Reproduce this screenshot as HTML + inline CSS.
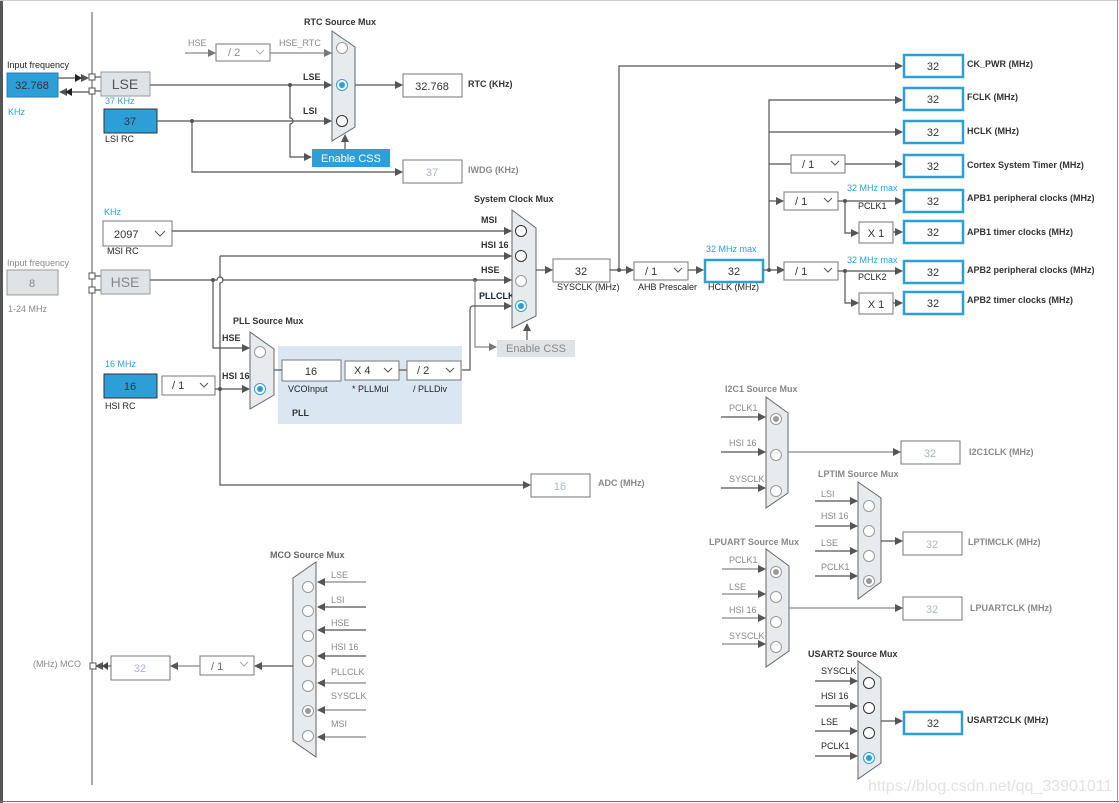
<!DOCTYPE html>
<html><head><meta charset="utf-8"><style>
html,body{margin:0;padding:0;background:#fff}
svg{display:block;font-family:"Liberation Sans",sans-serif}
.l{stroke:#555;stroke-width:1.2;fill:none}
.lg{stroke:#888;stroke-width:1.2;fill:none}
.b{fill:#fff;stroke:#777;stroke-width:1}
.bb{fill:#fff;stroke:#2d9fd8;stroke-width:2.5}
.mux{fill:#e8ebee;stroke:#666;stroke-width:1}
.t{font-size:9px;fill:#333;font-weight:bold}
.tg{font-size:9px;fill:#888}
.tb{font-size:9px;fill:#2d9fd8}
.tn{font-size:11px;fill:#333;text-anchor:middle}
.tgn{font-size:11px;fill:#aab8c6;text-anchor:middle}
.tk{font-size:9px;fill:#222}
</style></head><body>
<svg width="1119" height="803" viewBox="0 0 1119 803">
<defs>
<marker id="a" markerWidth="8" markerHeight="8" refX="7" refY="4" orient="auto" markerUnits="userSpaceOnUse"><path d="M0,0 L8,4 L0,8z" fill="#555"/></marker>
<marker id="ag" markerWidth="8" markerHeight="8" refX="7" refY="4" orient="auto" markerUnits="userSpaceOnUse"><path d="M0,0 L8,4 L0,8z" fill="#777"/></marker>
</defs>
<rect x="0" y="0" width="1119" height="803" fill="#fff"/>
<rect x="0" y="0" width="3" height="803" fill="#555"/>
<line x1="0" y1="0.5" x2="1119" y2="0.5" stroke="#ccc"/>
<line x1="0" y1="801.5" x2="1119" y2="801.5" stroke="#777"/>
<line x1="1117.5" y1="0" x2="1117.5" y2="803" stroke="#999"/>
<line x1="92" y1="12" x2="92" y2="785" stroke="#555"/>

<!-- LSE input -->
<text x="7" y="68" class="tk">Input frequency</text>
<rect x="7" y="73" width="51" height="24" fill="#2d9fd8" stroke="#2a7fb0"/>
<text x="32" y="89" class="tn">32.768</text>
<text x="8" y="115" class="tb">KHz</text>
<line x1="58" y1="78" x2="88" y2="78" class="l" marker-end="url(#a)"/>
<path d="M75,74 L82,78 L75,82z" fill="#222"/>
<line x1="90" y1="92" x2="60" y2="92" class="l" marker-end="url(#a)"/>
<path d="M72,88 L65,92 L72,96z" fill="#222"/>
<rect x="89" y="74" width="6" height="6" fill="#fff" stroke="#555"/>
<rect x="89" y="88" width="6" height="6" fill="#fff" stroke="#555"/>
<line x1="95" y1="77" x2="101" y2="77" class="l"/><line x1="95" y1="91" x2="101" y2="91" class="l"/>
<rect x="101" y="72" width="49" height="24" fill="#e0e3e6" stroke="#999"/>
<text x="125" y="89" class="tn" style="font-size:14px;fill:#555">LSE</text>
<text x="105" y="104" class="tb">37 KHz</text>
<rect x="104" y="109" width="53" height="24" fill="#2d9fd8" stroke="#333"/>
<text x="130" y="125" class="tn">37</text>
<text x="105" y="142" class="tk">LSI RC</text>

<!-- RTC -->
<text x="304" y="25" class="t">RTC Source Mux</text>
<text x="188" y="46" class="tg">HSE</text>
<line x1="185" y1="53" x2="215" y2="53" class="lg" marker-end="url(#ag)"/>
<rect x="216" y="44" width="54" height="17" class="b" stroke="#aaa"/>
<text x="228" y="56" class="tg" style="font-size:11px">/ 2</text><path d="M256,50 l4,4 l4,-4" stroke="#aaa" fill="none"/>
<text x="279" y="46" class="tg">HSE_RTC</text>
<line x1="270" y1="53" x2="331" y2="53" class="lg" marker-end="url(#ag)"/>
<line x1="150" y1="85" x2="331" y2="85" class="l" marker-end="url(#a)"/>
<line x1="157" y1="121" x2="331" y2="121" class="l" marker-end="url(#a)"/>
<circle cx="290" cy="85" r="2" fill="#555"/><circle cx="192" cy="121" r="2" fill="#555"/>
<path d="M290,85 V118 a3,3 0 0 1 0,6 V157 H311" class="l" marker-end="url(#a)"/>
<path d="M192,121 V172 H402" class="l" marker-end="url(#a)"/>
<text x="303" y="80" class="t">LSE</text><text x="303" y="114" class="t">LSI</text>
<path d="M332,31 L355,47 L355,127 L332,141z" class="mux"/>
<circle cx="342" cy="48" r="5.5" fill="#fff" stroke="#999"/>
<circle cx="342" cy="85" r="5.5" fill="#fff" stroke="#2d9fd8"/><circle cx="342" cy="85" r="3" fill="#2d9fd8"/>
<circle cx="342" cy="121" r="5.5" fill="#fff" stroke="#333"/>
<rect x="312" y="149" width="78" height="18" fill="#2d9fd8"/>
<text x="351" y="162" class="tn" style="fill:#fff">Enable CSS</text>
<line x1="345" y1="149" x2="345" y2="135" class="l" marker-end="url(#a)"/>
<line x1="355" y1="85" x2="402" y2="85" class="l" marker-end="url(#a)"/>
<rect x="403" y="74" width="59" height="23" class="b"/><text x="432" y="90" class="tn">32.768</text>
<text x="468" y="87" class="t">RTC (KHz)</text>
<rect x="403" y="160" width="59" height="23" class="b" stroke="#aaa"/><text x="432" y="176" class="tgn">37</text>
<text x="468" y="173" class="tg" style="font-weight:bold">IWDG (KHz)</text>

<!-- MSI -->
<text x="104" y="215" class="tb">KHz</text>
<rect x="103" y="221" width="69" height="25" class="b"/>
<text x="114" y="238" style="font-size:11px;fill:#333">2097</text><path d="M155,231 l5,5 l5,-5" stroke="#555" fill="none"/>
<text x="107" y="254" class="tk">MSI RC</text>
<line x1="172" y1="231" x2="511" y2="231" class="l" marker-end="url(#a)"/>
<text x="481" y="223" class="t">MSI</text>

<!-- HSE input -->
<text x="7" y="266" class="tg">Input frequency</text>
<rect x="7" y="270" width="51" height="25" fill="#e0e3e6" stroke="#999"/>
<text x="32" y="287" class="tn" style="fill:#888">8</text>
<text x="8" y="312" class="tg">1-24 MHz</text>
<rect x="89" y="273" width="6" height="6" fill="#fff" stroke="#555"/>
<rect x="89" y="287" width="6" height="6" fill="#fff" stroke="#555"/>
<line x1="95" y1="276" x2="101" y2="276" class="l"/><line x1="95" y1="290" x2="101" y2="290" class="l"/>
<rect x="101" y="270" width="49" height="24" fill="#e0e3e6" stroke="#999"/>
<text x="125" y="287" class="tn" style="font-size:14px;fill:#888">HSE</text>

<!-- HSI16 -->
<line x1="220" y1="256" x2="511" y2="256" class="l" marker-end="url(#a)"/>
<path d="M220,256 V277 a3,3 0 0 1 0,6 V485 H530" class="l" marker-end="url(#a)"/>
<text x="481" y="248" class="t">HSI 16</text>
<path d="M150,280 H217 a3,3 0 0 1 6,0 H511" class="l" marker-end="url(#a)"/>
<circle cx="213" cy="280" r="2" fill="#555"/><circle cx="475" cy="280" r="2" fill="#555"/>
<path d="M213,280 V348 H249" class="l" marker-end="url(#a)"/>
<text x="481" y="273" class="t">HSE</text>
<path d="M475,280 V347 H496" class="lg" marker-end="url(#ag)"/>
<path d="M461,370 H470 V309 a3,3 0 0 1 3,-3 H511" class="l" marker-end="url(#a)"/>
<text x="479" y="299" class="t" style="fill:#123">PLLCLK</text>

<text x="105" y="367" class="tb">16 MHz</text>
<rect x="104" y="374" width="53" height="24" fill="#2d9fd8" stroke="#333"/>
<text x="130" y="390" class="tn">16</text>
<text x="105" y="409" class="tk">HSI RC</text>
<rect x="162" y="376" width="53" height="19" class="b"/>
<text x="172" y="389" style="font-size:11px;fill:#333">/ 1</text><path d="M200,383 l4,4 l4,-4" stroke="#555" fill="none"/>
<line x1="215" y1="389" x2="249" y2="389" class="l" marker-end="url(#a)"/>
<circle cx="220" cy="389" r="2" fill="#555"/>

<!-- PLL -->
<text x="233" y="324" class="t">PLL Source Mux</text>
<text x="222" y="341" class="t">HSE</text><text x="222" y="379" class="t">HSI 16</text>
<rect x="278" y="346" width="184" height="78" fill="#dae7f3"/>
<path d="M250,332 L274,349 L274,395 L250,409z" class="mux"/>
<circle cx="260" cy="352" r="5.5" fill="#fff" stroke="#999"/>
<circle cx="260" cy="389" r="5.5" fill="#fff" stroke="#2d9fd8"/><circle cx="260" cy="389" r="3" fill="#2d9fd8"/>
<line x1="274" y1="370" x2="282" y2="370" class="l"/>
<rect x="282" y="360" width="59" height="21" class="b"/><text x="311" y="375" class="tn">16</text>
<text x="288" y="392" class="tk">VCOInput</text>
<rect x="345" y="361" width="54" height="19" class="b"/>
<text x="354" y="374" style="font-size:11px;fill:#333">X 4</text><path d="M384,368 l4,4 l4,-4" stroke="#555" fill="none"/>
<text x="352" y="392" class="tk">* PLLMul</text>
<line x1="399" y1="370" x2="407" y2="370" class="l"/>
<rect x="407" y="361" width="54" height="19" class="b"/>
<text x="417" y="374" style="font-size:11px;fill:#333">/ 2</text><path d="M446,368 l4,4 l4,-4" stroke="#555" fill="none"/>
<text x="413" y="392" class="tk">/ PLLDiv</text>
<text x="292" y="416" class="t">PLL</text>

<!-- System clock mux -->
<text x="474" y="202" class="t">System Clock Mux</text>
<path d="M512,210 L536,228 L536,316 L512,328z" class="mux"/>
<circle cx="521" cy="231" r="5.5" fill="#fff" stroke="#333"/>
<circle cx="521" cy="256" r="5.5" fill="#fff" stroke="#333"/>
<circle cx="521" cy="281" r="5.5" fill="#fff" stroke="#999"/>
<circle cx="521" cy="306" r="5.5" fill="#fff" stroke="#2d9fd8"/><circle cx="521" cy="306" r="3" fill="#2d9fd8"/>
<rect x="497" y="340" width="78" height="17" fill="#e0e3e6"/>
<text x="536" y="352" class="tn" style="fill:#888">Enable CSS</text>
<line x1="527" y1="340" x2="527" y2="324" class="l" marker-end="url(#a)"/>
<line x1="536" y1="270" x2="552" y2="270" class="l" marker-end="url(#a)"/>
<rect x="553" y="259" width="57" height="23" class="b"/><text x="581" y="275" class="tn">32</text>
<text x="557" y="290" class="tk">SYSCLK (MHz)</text>
<circle cx="619" cy="270" r="2" fill="#555"/>
<path d="M619,270 V66 H902" class="l" marker-end="url(#a)"/>
<line x1="610" y1="270" x2="633" y2="270" class="l" marker-end="url(#a)"/>
<rect x="634" y="262" width="54" height="18" class="b"/>
<text x="645" y="275" style="font-size:11px;fill:#333">/ 1</text><path d="M674,268 l4,4 l4,-4" stroke="#555" fill="none"/>
<text x="638" y="290" class="tk">AHB Prescaler</text>
<line x1="688" y1="270" x2="703" y2="270" class="l" marker-end="url(#a)"/>
<text x="706" y="252" class="tb">32 MHz max</text>
<rect x="705" y="260" width="58" height="22" class="bb"/><text x="734" y="275" class="tn">32</text>
<text x="708" y="290" class="tk">HCLK (MHz)</text>
<circle cx="769" cy="270" r="2" fill="#555"/>
<path d="M763,270 H784" class="l" marker-end="url(#a)"/>
<path d="M769,270 V100 H902" class="l" marker-end="url(#a)"/>
<line x1="769" y1="132" x2="902" y2="132" class="l" marker-end="url(#a)"/>
<line x1="769" y1="164" x2="791" y2="164" class="l"/>
<rect x="791" y="155" width="54" height="18" class="b"/>
<text x="802" y="168" style="font-size:11px;fill:#333">/ 1</text><path d="M831,161 l4,4 l4,-4" stroke="#555" fill="none"/>
<line x1="845" y1="164" x2="902" y2="164" class="l" marker-end="url(#a)"/>
<line x1="769" y1="201" x2="783" y2="201" class="l" marker-end="url(#a)"/>
<rect x="784" y="192" width="54" height="18" class="b"/>
<text x="795" y="205" style="font-size:11px;fill:#333">/ 1</text><path d="M824,198 l4,4 l4,-4" stroke="#555" fill="none"/>
<line x1="838" y1="201" x2="902" y2="201" class="l" marker-end="url(#a)"/>
<circle cx="845" cy="201" r="2" fill="#555"/>
<path d="M845,201 V233 H858" class="l" marker-end="url(#a)"/>
<text x="847" y="191" class="tb">32 MHz max</text><text x="858" y="209" class="tk">PCLK1</text>
<rect x="859" y="222" width="34" height="21" class="b"/><text x="876" y="237" class="tn">X 1</text>
<line x1="893" y1="232" x2="902" y2="232" class="l" marker-end="url(#a)"/>
<rect x="784" y="262" width="54" height="18" class="b"/>
<text x="795" y="275" style="font-size:11px;fill:#333">/ 1</text><path d="M824,268 l4,4 l4,-4" stroke="#555" fill="none"/>
<line x1="838" y1="271" x2="902" y2="271" class="l" marker-end="url(#a)"/>
<circle cx="845" cy="271" r="2" fill="#555"/>
<path d="M845,271 V303 H858" class="l" marker-end="url(#a)"/>
<text x="847" y="263" class="tb">32 MHz max</text><text x="858" y="280" class="tk">PCLK2</text>
<rect x="859" y="293" width="34" height="21" class="b"/><text x="876" y="308" class="tn">X 1</text>
<line x1="893" y1="303" x2="902" y2="303" class="l" marker-end="url(#a)"/>

<!-- outputs -->
<g>
<rect x="904" y="55" width="59" height="22" class="bb"/><text x="933" y="70" class="tn">32</text><text x="967" y="67" class="t">CK_PWR (MHz)</text>
<rect x="904" y="88" width="59" height="22" class="bb"/><text x="933" y="103" class="tn">32</text><text x="967" y="100" class="t">FCLK (MHz)</text>
<rect x="904" y="121" width="59" height="22" class="bb"/><text x="933" y="136" class="tn">32</text><text x="967" y="134" class="t">HCLK (MHz)</text>
<rect x="904" y="155" width="59" height="22" class="bb"/><text x="933" y="170" class="tn">32</text><text x="967" y="168" class="t">Cortex System Timer (MHz)</text>
<rect x="904" y="190" width="59" height="22" class="bb"/><text x="933" y="205" class="tn">32</text><text x="967" y="201" class="t">APB1 peripheral clocks (MHz)</text>
<rect x="904" y="221" width="59" height="22" class="bb"/><text x="933" y="236" class="tn">32</text><text x="967" y="235" class="t">APB1 timer clocks (MHz)</text>
<rect x="904" y="261" width="59" height="22" class="bb"/><text x="933" y="276" class="tn">32</text><text x="967" y="273" class="t">APB2 peripheral clocks (MHz)</text>
<rect x="904" y="292" width="59" height="22" class="bb"/><text x="933" y="307" class="tn">32</text><text x="967" y="303" class="t">APB2 timer clocks (MHz)</text>
</g>

<!-- ADC -->
<rect x="531" y="474" width="59" height="23" class="b" stroke="#aaa"/><text x="560" y="490" class="tgn">16</text>
<text x="598" y="486" class="tg" style="font-weight:bold">ADC (MHz)</text>

<!-- I2C1 -->
<text x="725" y="392" class="tg" style="font-weight:bold">I2C1 Source Mux</text>
<text x="729" y="411" class="tg">PCLK1</text><text x="729" y="446" class="tg">HSI 16</text><text x="729" y="482" class="tg">SYSCLK</text>
<line x1="721" y1="417" x2="765" y2="417" class="l" marker-end="url(#a)"/>
<line x1="721" y1="452" x2="765" y2="452" class="l" marker-end="url(#a)"/>
<line x1="721" y1="488" x2="765" y2="488" class="l" marker-end="url(#a)"/>
<path d="M766,397 L788,413 L788,493 L766,508z" class="mux"/>
<circle cx="776" cy="419" r="5.5" fill="#fff" stroke="#999"/><circle cx="776" cy="419" r="3" fill="#999"/>
<circle cx="776" cy="455" r="5.5" fill="#fff" stroke="#999"/>
<circle cx="776" cy="491" r="5.5" fill="#fff" stroke="#999"/>
<line x1="788" y1="452" x2="900" y2="452" class="lg" marker-end="url(#a)"/>
<rect x="901" y="441" width="59" height="23" class="b" stroke="#999"/><text x="930" y="457" class="tgn">32</text>
<text x="969" y="455" class="tg" style="font-weight:bold">I2C1CLK (MHz)</text>

<!-- LPTIM -->
<text x="818" y="477" class="tg" style="font-weight:bold">LPTIM Source Mux</text>
<text x="821" y="497" class="tg">LSI</text><text x="821" y="519" class="tg">HSI 16</text><text x="821" y="546" class="tg">LSE</text><text x="821" y="570" class="tg">PCLK1</text>
<line x1="815" y1="501" x2="857" y2="501" class="l" marker-end="url(#a)"/>
<line x1="815" y1="526" x2="857" y2="526" class="l" marker-end="url(#a)"/>
<line x1="815" y1="551" x2="857" y2="551" class="l" marker-end="url(#a)"/>
<line x1="815" y1="576" x2="857" y2="576" class="l" marker-end="url(#a)"/>
<path d="M858,482 L881,498 L881,582 L858,599z" class="mux"/>
<circle cx="869" cy="506" r="5.5" fill="#fff" stroke="#999"/>
<circle cx="869" cy="531" r="5.5" fill="#fff" stroke="#999"/>
<circle cx="869" cy="556" r="5.5" fill="#fff" stroke="#999"/>
<circle cx="869" cy="581" r="5.5" fill="#fff" stroke="#999"/><circle cx="869" cy="581" r="3" fill="#999"/>
<line x1="881" y1="541" x2="902" y2="541" class="l" marker-end="url(#a)"/>
<rect x="903" y="532" width="59" height="23" class="b" stroke="#999"/><text x="932" y="548" class="tgn">32</text>
<text x="968" y="545" class="tg" style="font-weight:bold">LPTIMCLK (MHz)</text>

<!-- LPUART -->
<text x="709" y="545" class="tg" style="font-weight:bold">LPUART Source Mux</text>
<text x="729" y="563" class="tg">PCLK1</text><text x="729" y="590" class="tg">LSE</text><text x="729" y="613" class="tg">HSI 16</text><text x="729" y="639" class="tg">SYSCLK</text>
<line x1="722" y1="569" x2="765" y2="569" class="lg" marker-end="url(#a)"/>
<line x1="722" y1="594" x2="765" y2="594" class="lg" marker-end="url(#a)"/>
<line x1="722" y1="618" x2="765" y2="618" class="lg" marker-end="url(#a)"/>
<line x1="722" y1="644" x2="765" y2="644" class="lg" marker-end="url(#a)"/>
<path d="M766,549 L789,566 L789,651 L766,667z" class="mux"/>
<circle cx="776" cy="572" r="5.5" fill="#fff" stroke="#999"/><circle cx="776" cy="572" r="3" fill="#999"/>
<circle cx="776" cy="597" r="5.5" fill="#fff" stroke="#999"/>
<circle cx="776" cy="622" r="5.5" fill="#fff" stroke="#999"/>
<circle cx="776" cy="647" r="5.5" fill="#fff" stroke="#999"/>
<line x1="789" y1="608" x2="902" y2="608" class="lg" marker-end="url(#a)"/>
<rect x="903" y="597" width="59" height="23" class="b" stroke="#999"/><text x="932" y="613" class="tgn">32</text>
<text x="970" y="611" class="tg" style="font-weight:bold">LPUARTCLK (MHz)</text>

<!-- USART2 -->
<text x="808" y="657" class="t">USART2 Source Mux</text>
<text x="821" y="674" class="tk">SYSCLK</text><text x="821" y="699" class="tk">HSI 16</text><text x="821" y="725" class="tk">LSE</text><text x="821" y="749" class="tk">PCLK1</text>
<line x1="815" y1="681" x2="857" y2="681" class="l" marker-end="url(#a)"/>
<line x1="815" y1="706" x2="857" y2="706" class="l" marker-end="url(#a)"/>
<line x1="815" y1="731" x2="857" y2="731" class="l" marker-end="url(#a)"/>
<line x1="815" y1="756" x2="857" y2="756" class="l" marker-end="url(#a)"/>
<path d="M858,661 L881,678 L881,763 L858,779z" class="mux"/>
<circle cx="869" cy="683" r="5.5" fill="#fff" stroke="#333"/>
<circle cx="869" cy="708" r="5.5" fill="#fff" stroke="#333"/>
<circle cx="869" cy="733" r="5.5" fill="#fff" stroke="#333"/>
<circle cx="869" cy="758" r="5.5" fill="#fff" stroke="#2d9fd8"/><circle cx="869" cy="758" r="3" fill="#2d9fd8"/>
<line x1="881" y1="721" x2="902" y2="721" class="l" marker-end="url(#a)"/>
<rect x="904" y="712" width="58" height="22" class="bb"/><text x="933" y="727" class="tn">32</text>
<text x="967" y="723" class="t">USART2CLK (MHz)</text>

<!-- MCO -->
<text x="270" y="558" class="t" style="fill:#666">MCO Source Mux</text>
<path d="M293,578 L316,562 L316,757 L293,741z" class="mux"/>
<g class="tg">
<text x="331" y="578">LSE</text><text x="331" y="603">LSI</text><text x="331" y="626">HSE</text><text x="331" y="650">HSI 16</text><text x="331" y="675">PLLCLK</text><text x="331" y="699">SYSCLK</text><text x="331" y="727">MSI</text>
</g>
<line x1="366" y1="582" x2="318" y2="582" class="lg" marker-end="url(#a)"/>
<line x1="366" y1="607" x2="318" y2="607" class="l" marker-end="url(#a)"/>
<line x1="366" y1="630" x2="318" y2="630" class="l" marker-end="url(#a)"/>
<line x1="366" y1="656" x2="318" y2="656" class="l" marker-end="url(#a)"/>
<line x1="366" y1="683" x2="318" y2="683" class="lg" marker-end="url(#a)"/>
<line x1="366" y1="710" x2="318" y2="710" class="lg" marker-end="url(#a)"/>
<line x1="366" y1="737" x2="318" y2="737" class="lg" marker-end="url(#a)"/>
<circle cx="308" cy="587" r="5.5" fill="#fff" stroke="#999"/>
<circle cx="308" cy="611" r="5.5" fill="#fff" stroke="#999"/>
<circle cx="308" cy="636" r="5.5" fill="#fff" stroke="#999"/>
<circle cx="308" cy="661" r="5.5" fill="#fff" stroke="#999"/>
<circle cx="308" cy="686" r="5.5" fill="#fff" stroke="#999"/>
<circle cx="308" cy="711" r="5.5" fill="#fff" stroke="#999"/><circle cx="308" cy="711" r="3" fill="#999"/>
<circle cx="308" cy="736" r="5.5" fill="#fff" stroke="#999"/>
<line x1="293" y1="666" x2="255" y2="666" class="l" marker-end="url(#a)"/>
<rect x="200" y="656" width="54" height="19" class="b" stroke="#999"/>
<text x="211" y="670" style="font-size:11px;fill:#666">/ 1</text><path d="M240,662 l4,4 l4,-4" stroke="#aaa" fill="none"/>
<line x1="200" y1="666" x2="171" y2="666" class="lg" marker-end="url(#a)"/>
<rect x="111" y="656" width="59" height="24" class="b" stroke="#999"/><text x="140" y="672" class="tgn">32</text>
<line x1="111" y1="666" x2="96" y2="666" class="l" marker-end="url(#a)"/>
<path d="M108,662 L102,666 L108,670z" fill="#444"/>
<rect x="90" y="663" width="6" height="6" fill="#fff" stroke="#555"/>
<text x="33" y="667" class="tg">(MHz) MCO</text>

<text x="868" y="791" style="font-size:16px;fill:#e2e2e2">https://blog.csdn.net/qq_33901011</text>
</svg>
</body></html>
